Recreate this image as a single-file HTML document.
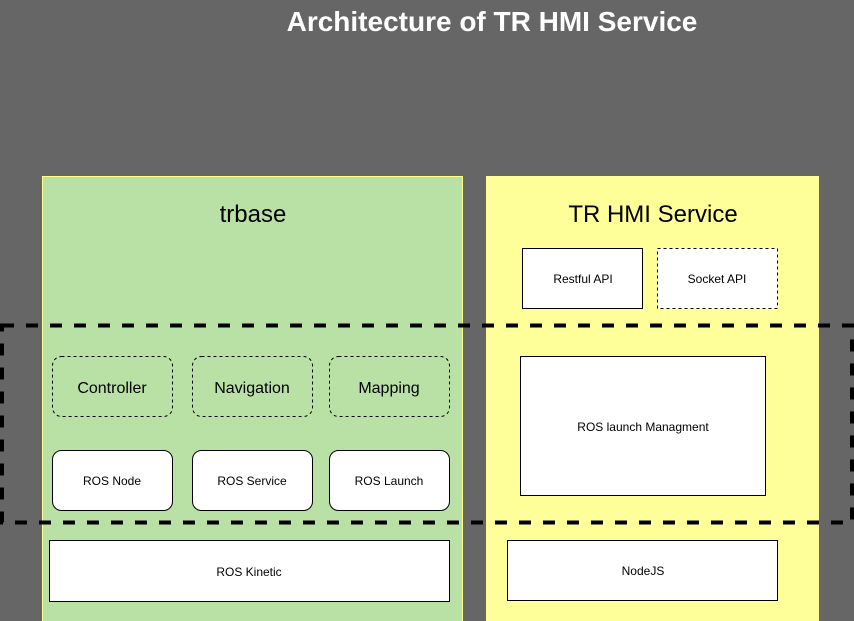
<!DOCTYPE html>
<html><head><style>body{margin:0;background:#666666;}svg{display:block}</style></head><body>
<svg width="854" height="621" xmlns="http://www.w3.org/2000/svg" font-family="Liberation Sans, sans-serif">
<rect width="854" height="621" fill="#666666"/>
<text x="492" y="31" font-size="28" font-weight="bold" fill="#ffffff" text-anchor="middle">Architecture of TR HMI Service</text>
<rect x="42.5" y="176.5" width="420" height="446" fill="#b9e0a5" stroke="#ffff88" stroke-width="1"/>
<rect x="486" y="176" width="333" height="446" fill="#ffff99"/>
<text x="253" y="222" font-size="24" text-anchor="middle">trbase</text>
<text x="653" y="222" font-size="24" text-anchor="middle">TR HMI Service</text>
<g fill="none" stroke="#000" stroke-dasharray="3,3">
<rect x="52.5" y="356.5" width="120" height="60" rx="9"/>
<rect x="192.5" y="356.5" width="120" height="60" rx="9"/>
<rect x="329.5" y="356.5" width="120" height="60" rx="9"/>
</g>
<g font-size="16" text-anchor="middle"><text x="112" y="393">Controller</text><text x="252" y="393">Navigation</text><text x="389" y="393">Mapping</text></g>
<g fill="#fff" stroke="#000">
<rect x="52.5" y="450.5" width="120" height="60" rx="9"/>
<rect x="192.5" y="450.5" width="120" height="60" rx="9"/>
<rect x="329.5" y="450.5" width="120" height="60" rx="9"/>
<rect x="49.5" y="540.5" width="400" height="61"/>
<rect x="522.5" y="248.5" width="120" height="60"/>
<rect x="657.5" y="248.5" width="120" height="60" stroke-dasharray="3,3"/>
<rect x="520.5" y="356.5" width="245" height="139"/>
<rect x="507.5" y="540.5" width="270" height="60"/>
</g>
<g font-size="12" text-anchor="middle">
<text x="112" y="485">ROS Node</text><text x="252" y="485">ROS Service</text><text x="389" y="485">ROS Launch</text>
<text x="249" y="576">ROS Kinetic</text><text x="583" y="283">Restful API</text><text x="717" y="283">Socket API</text>
<text x="643" y="431">ROS launch Managment</text><text x="643" y="575">NodeJS</text>
</g>
<rect x="2" y="325.5" width="850" height="197" fill="none" stroke="#000" stroke-width="4" stroke-dasharray="12,12"/>
</svg>
</body></html>
